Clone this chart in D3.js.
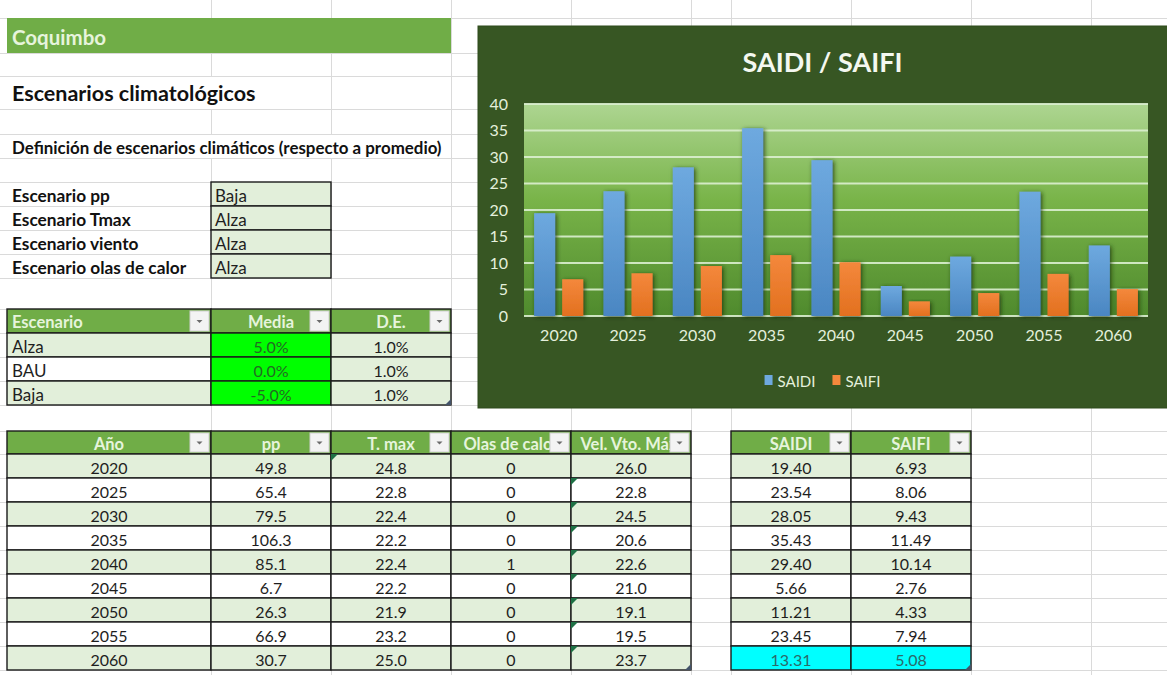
<!DOCTYPE html>
<html lang="es">
<head>
<meta charset="UTF-8">
<title>Coquimbo - SAIDI / SAIFI</title>
<script src="https://cdn.jsdelivr.net/npm/d3@7"></script>
<style>
    body { margin: 0; background: #fff; }
    svg { display: block; font-family: Lato, "Open Sans", sans-serif; }
</style>
</head>
<body>
<div id="sheet"></div>
<script type="text/javascript">
    // datos de la hoja
    var years = [2020, 2025, 2030, 2035, 2040, 2045, 2050, 2055, 2060];
    var pp = [49.8, 65.4, 79.5, 106.3, 85.1, 6.7, 26.3, 66.9, 30.7];
    var tmax = [24.8, 22.8, 22.4, 22.2, 22.4, 22.2, 21.9, 23.2, 25.0];
    var olas = [0, 0, 0, 0, 1, 0, 0, 0, 0];
    var velVto = [26.0, 22.8, 24.5, 20.6, 22.6, 21.0, 19.1, 19.5, 23.7];
    var saidi = [19.40, 23.54, 28.05, 35.43, 29.40, 5.66, 11.21, 23.45, 13.31];
    var saifi = [6.93, 8.06, 9.43, 11.49, 10.14, 2.76, 4.33, 7.94, 5.08];
    var series = ['SAIDI', 'SAIFI'];
    var yTicks = [0, 5, 10, 15, 20, 25, 30, 35, 40];

    var paramNames = ['Escenario pp', 'Escenario Tmax', 'Escenario viento', 'Escenario olas de calor'];
    var paramValues = ['Baja', 'Alza', 'Alza', 'Alza'];
    var escenarios = ['Alza', 'BAU', 'Baja'];
    var medias = [0.05, 0.0, -0.05];
    var desv = [0.01, 0.01, 0.01];
    var mainHeaders = ['Año', 'pp', 'T. max', 'Olas de calor', 'Vel. Vto. Máx.'];

    var W = 1167, H = 675;
    // grilla de la hoja (bordes de columnas y filas)
    var cols = [7, 211, 331, 451, 571, 691, 731, 851, 971, 1091];
    var rows = [18, 53, 76, 109, 134, 158, 182, 206, 230, 254, 278, 309, 333, 357, 381, 405, 431, 454, 478, 502, 526, 550, 574, 598, 622, 646, 670];

    var loc = d3.formatLocale({decimal: '.', thousands: ',', grouping: [3], currency: ['$', ''], minus: '-'});
    var pct = loc.format('.1%'), f1 = loc.format('.1f'), f2 = loc.format('.2f');

    var lightGreen = '#e2efda', headGreen = '#70ad47', headText = '#e6f4dc';

    var svg = d3.select('#sheet').append('svg')
        .attr('width', W).attr('height', H);

    var defs = svg.append('defs');

    // lineas de la grilla
    var grid = svg.append('g').attr('stroke', '#dadada').attr('stroke-width', 1);
    rows.forEach(function (y) {
        grid.append('line').attr('x1', 0).attr('x2', W).attr('y1', y + 0.5).attr('y2', y + 0.5);
    });
    cols.slice(1).forEach(function (x) {
        var skip = [];
        if (x === 211) skip = [[76, 109], [134, 158]];
        if (x === 331) skip = [[134, 158]];
        var y0 = 0;
        skip.forEach(function (s) {
            grid.append('line').attr('x1', x + 0.5).attr('x2', x + 0.5).attr('y1', y0).attr('y2', s[0]);
            y0 = s[1];
        });
        grid.append('line').attr('x1', x + 0.5).attr('x2', x + 0.5).attr('y1', y0).attr('y2', H);
    });

    function cell(x0, x1, y0, y1, fill, border) {
        svg.append('rect')
            .attr('x', x0).attr('y', y0)
            .attr('width', x1 - x0).attr('height', y1 - y0)
            .attr('fill', fill)
            .attr('stroke', border ? '#1b1b1b' : 'none')
            .attr('stroke-width', 1.4);
    }

    function txt(t, x, y, opt) {
        opt = opt || {};
        return svg.append('text')
            .attr('x', x).attr('y', y + 1)
            .attr('dominant-baseline', 'central')
            .attr('text-anchor', opt.anchor || 'start')
            .attr('font-size', opt.size || 16)
            .attr('font-weight', opt.bold ? 700 : 400)
            .attr('fill', opt.color || '#1e1e1e')
            .attr('clip-path', opt.clip || null)
            .text(t);
    }

    var clipId = 0;
    function header(x0, x1, y0, y1, label, anchor) {
        cell(x0, x1, y0, y1, headGreen, true);
        var id = 'clip' + (clipId++);
        defs.append('clipPath').attr('id', id).append('rect')
            .attr('x', x0 + 1).attr('y', y0).attr('width', x1 - x0 - 2).attr('height', y1 - y0);
        var tx = anchor === 'start' ? x0 + 5 : (x0 + x1) / 2;
        txt(label, tx, (y0 + y1) / 2, {anchor: anchor || 'middle', bold: true, size: 16.5, color: headText, clip: 'url(#' + id + ')'});
        // boton del filtro
        var bx = x1 - 21, by = y0 + 2, bh = y1 - y0 - 4;
        svg.append('rect').attr('x', bx).attr('y', by).attr('width', 19).attr('height', bh)
            .attr('fill', '#f3f3f3').attr('stroke', '#cfcfcf');
        svg.append('path')
            .attr('d', 'M' + (bx + 6.5) + ',' + (by + bh / 2 - 1) + 'h6l-3,3z')
            .attr('fill', '#6b6b6b');
    }

    function corner(x, y, color) {
        svg.append('path').attr('d', 'M' + x + ',' + y + 'h7l-7,7z').attr('fill', color || '#1e7145');
    }

    function handle(x, y) {
        svg.append('path').attr('d', 'M' + x + ',' + y + 'v-6l-6,6z').attr('fill', '#44546a');
    }

    // encabezados superiores
    cell(7, 451, 18, 53, headGreen, false);
    txt('Coquimbo', 12, 36, {size: 20.5, bold: true, color: headText});
    txt('Escenarios climatológicos', 12, 92, {size: 21.5, bold: true, color: '#111'});
    txt('Definición de escenarios climáticos (respecto a promedio)', 12, 146, {size: 16.9, bold: true, color: '#111'});

    // parametros del escenario
    paramNames.forEach(function (p, i) {
        var y0 = rows[6 + i], y1 = rows[7 + i];
        txt(p, 12, (y0 + y1) / 2, {bold: true, size: 17.3, color: '#111'});
        cell(211, 331, y0, y1, lightGreen, true);
        txt(paramValues[i], 215, (y0 + y1) / 2, {size: 17});
    });

    // tabla de escenarios
    header(7, 211, 309, 333, 'Escenario', 'start');
    header(211, 331, 309, 333, 'Media');
    header(331, 451, 309, 333, 'D.E.');
    escenarios.forEach(function (e, i) {
        var y0 = rows[12 + i], y1 = rows[13 + i], yc = (y0 + y1) / 2;
        cell(7, 211, y0, y1, i % 2 === 0 ? lightGreen : '#fff', true);
        cell(211, 331, y0, y1, '#00ff00', true);
        cell(331, 451, y0, y1, lightGreen, true);
        txt(e, 12, yc, {size: 17});
        txt(pct(medias[i]), 271, yc, {anchor: 'middle', color: '#236b23'});
        txt(pct(desv[i]), 391, yc, {anchor: 'middle'});
    });
    handle(451, 405);

    // tabla principal
    var mainCols = [cols[0], cols[1], cols[2], cols[3], cols[4], cols[5]];
    mainHeaders.forEach(function (h, j) {
        header(mainCols[j], mainCols[j + 1], 431, 454, h);
    });
    header(731, 851, 431, 454, series[0]);
    header(851, 971, 431, 454, series[1]);

    years.forEach(function (yr, i) {
        var y0 = rows[17 + i], y1 = rows[18 + i], yc = (y0 + y1) / 2;
        var band = i % 2 === 0 ? lightGreen : '#fff';
        var vals = [yr, f1(pp[i]), f1(tmax[i]), olas[i], f1(velVto[i])];
        vals.forEach(function (v, j) {
            cell(mainCols[j], mainCols[j + 1], y0, y1, band, true);
            txt(v, (mainCols[j] + mainCols[j + 1]) / 2, yc, {anchor: 'middle'});
        });
        var last = i === years.length - 1;
        cell(731, 851, y0, y1, last ? '#00ffff' : band, true);
        cell(851, 971, y0, y1, last ? '#00ffff' : band, true);
        txt(f2(saidi[i]), 791, yc, {anchor: 'middle', color: last ? '#2a6a6a' : '#1e1e1e'});
        txt(f2(saifi[i]), 911, yc, {anchor: 'middle', color: last ? '#2a6a6a' : '#1e1e1e'});
        if (i === 0) corner(331, y0);
        if (i > 0) corner(571, y0);
    });
    handle(691, 670);
    handle(971, 670);

    // ---------- grafico SAIDI / SAIFI ----------
    var chart = {x0: 478, y0: 26, x1: 1170, y1: 408};
    var plot = {left: 524, right: 1148, top: 104, bottom: 316};
    var cx = (chart.x0 + 1167) / 2;

    var bgGrad = defs.append('linearGradient').attr('id', 'plotBg')
        .attr('x1', 0).attr('y1', 0).attr('x2', 0).attr('y2', 1);
    bgGrad.append('stop').attr('offset', '0%').attr('stop-color', '#add591');
    bgGrad.append('stop').attr('offset', '45%').attr('stop-color', '#79b449');
    bgGrad.append('stop').attr('offset', '100%').attr('stop-color', '#4f8a2d');

    var barColors = {SAIDI: ['#6ea9df', '#4a86c2'], SAIFI: ['#f4883c', '#e2701f']};
    series.forEach(function (s) {
        var g = defs.append('linearGradient').attr('id', 'bar' + s)
            .attr('x1', 0).attr('y1', 0).attr('x2', 0).attr('y2', 1);
        g.append('stop').attr('offset', '0%').attr('stop-color', barColors[s][0]);
        g.append('stop').attr('offset', '100%').attr('stop-color', barColors[s][1]);
    });
    var sh = defs.append('filter').attr('id', 'shadow').attr('x', '-30%').attr('y', '-10%')
        .attr('width', '160%').attr('height', '130%');
    sh.append('feDropShadow').attr('dx', 1.5).attr('dy', 1).attr('stdDeviation', 2)
        .attr('flood-color', '#1d3010').attr('flood-opacity', 0.8);

    svg.append('rect')
        .attr('x', chart.x0).attr('y', chart.y0)
        .attr('width', chart.x1 - chart.x0).attr('height', chart.y1 - chart.y0)
        .attr('fill', '#375623').attr('stroke', '#2f4a1d');

    svg.append('rect')
        .attr('x', plot.left).attr('y', plot.top)
        .attr('width', plot.right - plot.left).attr('height', plot.bottom - plot.top)
        .attr('fill', 'url(#plotBg)');

    var x = d3.scaleBand().domain(years).range([plot.left, plot.right]);
    var xs = d3.scaleBand().domain(series).range([0, x.bandwidth()])
        .paddingInner(0.25).paddingOuter(0.36);
    var y = d3.scaleLinear().domain([0, 40]).range([plot.bottom, plot.top]);

    // lineas horizontales
    svg.append('g').selectAll('line')
        .data(yTicks)
        .enter()
        .append('line')
        .attr('x1', plot.left).attr('x2', plot.right)
        .attr('y1', function (d) { return y(d); })
        .attr('y2', function (d) { return y(d); })
        .attr('stroke', '#dcefd0').attr('stroke-opacity', 0.9).attr('stroke-width', 2);

    var rowsData = years.map(function (yr, i) {
        return {year: yr, SAIDI: saidi[i], SAIFI: saifi[i]};
    });

    svg.append('g').selectAll('g')
        .data(rowsData)
        .enter()
        .append('g')
        .attr('transform', function (d) { return 'translate(' + x(d.year) + ',0)'; })
        .selectAll('rect')
        .data(function (d) { return series.map(function (s) { return {key: s, value: d[s]}; }); })
        .enter()
        .append('rect')
        .attr('x', function (d) { return xs(d.key); })
        .attr('width', xs.bandwidth())
        .attr('y', function (d) { return y(d.value); })
        .attr('height', function (d) { return y(0) - y(d.value); })
        .attr('fill', function (d) { return 'url(#bar' + d.key + ')'; })
        .attr('filter', 'url(#shadow)');

    var yAxis = svg.append('g')
        .attr('transform', 'translate(' + plot.left + ',0)')
        .call(d3.axisLeft(y).tickValues(yTicks).tickSize(0).tickPadding(16));
    var xAxis = svg.append('g')
        .attr('transform', 'translate(0,' + plot.bottom + ')')
        .call(d3.axisBottom(x).tickSize(0).tickPadding(14));
    [yAxis, xAxis].forEach(function (a) {
        a.select('.domain').remove();
        a.selectAll('text')
            .attr('font-family', 'Lato, sans-serif')
            .attr('font-size', 16)
            .attr('fill', '#e4f0dc');
    });

    svg.append('text')
        .attr('x', cx).attr('y', 72)
        .attr('text-anchor', 'middle')
        .attr('font-size', 27).attr('font-weight', 700)
        .attr('fill', '#f4f8f0')
        .text('SAIDI / SAIFI');

    // leyenda
    var legend = svg.append('g');
    var lx = 0;
    series.forEach(function (s) {
        var item = legend.append('g').attr('transform', 'translate(' + lx + ',0)');
        item.append('rect').attr('x', 0).attr('y', -5).attr('width', 8).attr('height', 10)
            .attr('fill', barColors[s][0]);
        var t = item.append('text').attr('x', 13).attr('y', 1)
            .attr('dominant-baseline', 'central')
            .attr('font-size', 15).attr('fill', '#e4f0dc').text(s);
        lx += 13 + t.node().getComputedTextLength() + 17;
    });
    var lw = lx - 17;
    legend.attr('transform', 'translate(' + (cx - lw / 2) + ',380)');
</script>
</body>
</html>
